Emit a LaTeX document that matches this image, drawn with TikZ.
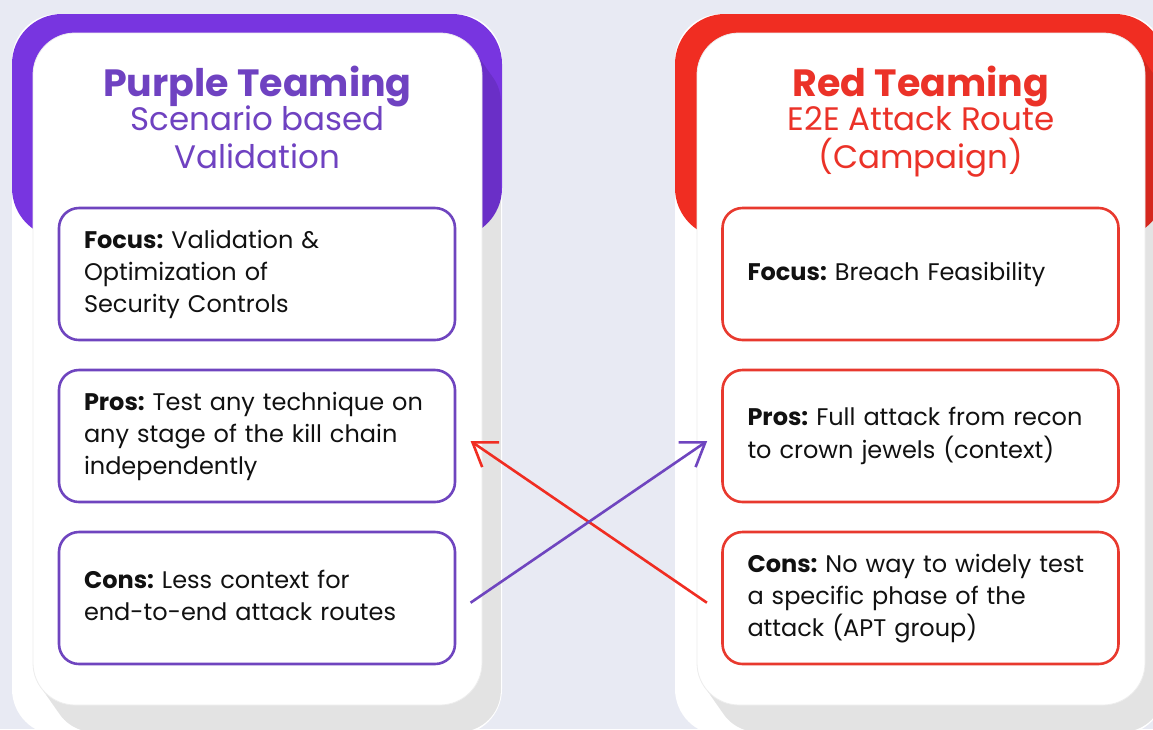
\documentclass[tikz,border=0pt]{standalone}
\usepackage{fontspec}
\setmainfont{Poppins}
\frenchspacing
\usetikzlibrary{arrows.meta,calc}
\definecolor{bgc}{HTML}{E8EAF3}
\definecolor{pTop}{HTML}{7835E0}
\definecolor{pText}{HTML}{6F42C1}
\definecolor{pLine}{HTML}{6F45BF}
\definecolor{rTop}{HTML}{F02D22}
\definecolor{rText}{HTML}{EB3228}
\definecolor{rLine}{HTML}{E8392E}
\definecolor{bodyc}{HTML}{111111}
\tikzset{
  titlefont/.style={anchor=base, inner sep=0pt, font=\fontsize{38}{42}\selectfont\bfseries},
  subfont/.style={anchor=base, inner sep=0pt, font=\fontsize{32.5}{36}\selectfont},
  infobox/.style={draw, line width=2.6pt, rounded corners=20pt, fill=white,
    minimum width=396pt, minimum height=132pt, text width=346pt, align=left,
    inner xsep=25pt, inner ysep=0pt, text=bodyc,
    font=\fontsize{24}{32}\selectfont,
    execute at begin node=\strut, execute at end node=\strut},
  pbox/.style={infobox, draw=pLine},
  rbox/.style={infobox, draw=rLine},
  link/.style={line width=2.6pt, -{Straight Barb[length=22pt,width=30pt]}},
  shadowc/.style={black, opacity=0.11, rounded corners=42pt},
  innercard/.style={fill=white, draw=black!7, line width=0.8pt, rounded corners=42pt}
}
\begin{document}
\begin{tikzpicture}[x=1pt,y=-1pt]
\useasboundingbox (0,0) rectangle (1153,729);
\clip (0,0) rectangle (1153,729);
\fill[bgc] (0,0) rectangle (1153,729);

% ---------- left card ----------
\fill[white, rounded corners=46pt] (12,14) rectangle (502,735);
\fill[pTop, rounded corners=50pt] (12,14) rectangle (502,238);
\begin{scope}
  \clip[rounded corners=46pt] (12,14) rectangle (503,735);
  \fill[shadowc]
    \foreach \t in {0,0.1,...,1.0} { ({33+21*\t},{33+30*\t}) rectangle ({482+21*\t},{705+30*\t}) };
\end{scope}
\path[innercard] (33,33) rectangle (482,705);

% ---------- right card ----------
\fill[white, rounded corners=46pt] (675,14) rectangle (1165,735);
\fill[rTop, rounded corners=50pt] (675,14) rectangle (1165,238);
\begin{scope}
  \clip[rounded corners=46pt] (675,14) rectangle (1166,735);
  \fill[shadowc]
    \foreach \t in {0,0.1,...,1.0} { ({697+21*\t},{33+30*\t}) rectangle ({1145+21*\t},{705+30*\t}) };
\end{scope}
\path[innercard] (697,33) rectangle (1145,705);

% ---------- titles ----------
\node[titlefont, text=pText] (ptitle) at (257.5,96.7) {Purple Teaming};
\node[subfont, text=pText] (psub1) at (257.5,130.7) {Scenario based};
\node[subfont, text=pText] (psub2) at (257.5,168) {Validation};

\node[titlefont, text=rText] (rtitle) at (921,96.7) {Red Teaming};
\node[subfont, text=rText] (rsub1) at (921,130.7) {E2E Attack Route};
\node[subfont, text=rText] (rsub2) at (921,168) {(Campaign)};

% ---------- boxes ----------
\node[pbox] (pfocus) at (257,274) {\textbf{Focus:} Validation \&\\Optimization of\\Security Controls};
\node[pbox] (ppros) at (257,436) {\textbf{Pros:} Test any technique on\\any stage of the kill chain\\independently};
\node[pbox] (pcons) at (257,598) {\textbf{Cons:} Less context for\\end-to-end attack routes};

\node[rbox] (rfocus) at (920.5,274) {\textbf{Focus:} Breach Feasibility};
\node[rbox] (rpros) at (920.5,436) {\textbf{Pros:} Full attack from recon\\to crown jewels (context)};
\node[rbox] (rcons) at (920.5,598) {\textbf{Cons:} No way to widely test\\a specific phase of the\\attack (APT group)};

% ---------- connectors ----------
\coordinate (redtail) at ($(rcons.west)+(-14.3,4.7)$);
\coordinate (redhead) at ($(ppros.east)+(14.3,5)$);
\coordinate (purtail) at ($(pcons.east)+(14.3,4.7)$);
\coordinate (purhead) at ($(rpros.west)+(-14,5)$);
\draw[link, rTop] (redtail) -- (redhead);
\draw[link, pLine] (purtail) -- (purhead);
\end{tikzpicture}
\end{document}
